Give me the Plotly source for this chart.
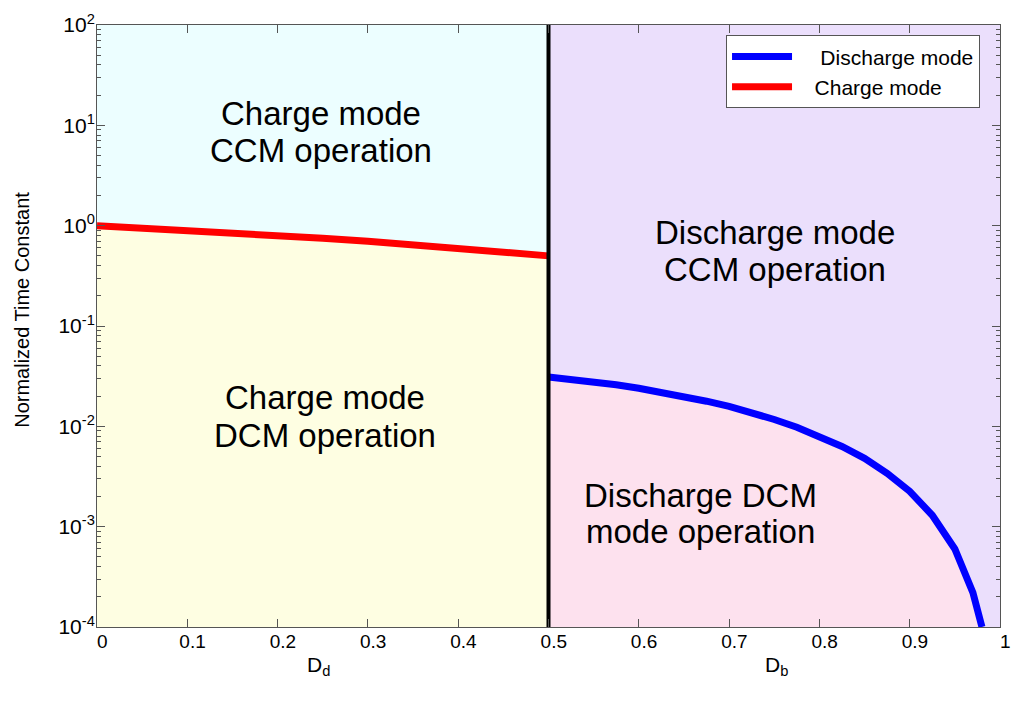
import plotly.graph_objects as go

# values
d_charge = [0.0, 0.05, 0.1, 0.15, 0.2, 0.25, 0.3, 0.35, 0.4, 0.45, 0.5]
tau_charge = [1.0, 0.95, 0.9, 0.85, 0.8, 0.75, 0.7, 0.65, 0.6, 0.55, 0.5]

d_discharge = [0.5, 0.525, 0.55, 0.575, 0.6, 0.625, 0.65, 0.675, 0.7, 0.725, 0.75,
               0.775, 0.8, 0.825, 0.85, 0.875, 0.9, 0.925, 0.95, 0.96, 0.97, 0.98]
tau_discharge = [0.031, 0.0296, 0.0278, 0.026, 0.024, 0.022, 0.0199, 0.0178, 0.0158, 0.0137, 0.0117,
                 0.0098, 0.008, 0.0063, 0.0048, 0.0034, 0.00225, 0.0013, 0.0006, 0.00038, 0.00022, 0.0001]

y_lo, y_hi = 1e-4, 1e2
x_mid = 0.5

xticks = [0, 0.1, 0.2, 0.3, 0.4, 0.5, 0.6, 0.7, 0.8, 0.9, 1]
xticktext = ["0", "0.1", "0.2", "0.3", "0.4", "0.5", "0.6", "0.7", "0.8", "0.9", "1"]
yticks = [1e-4, 1e-3, 1e-2, 1e-1, 1, 10, 100]
yticktext = ["10<sup>-4</sup>", "10<sup>-3</sup>", "10<sup>-2</sup>", "10<sup>-1</sup>",
             "10<sup>0</sup>", "10<sup>1</sup>", "10<sup>2</sup>"]

sans = "Liberation Sans, Arial"
pad = "\u00a0\u00a0"

fig = go.Figure()

# shaded regions
fig.add_trace(go.Scatter(x=d_charge + [x_mid, 0], y=tau_charge + [y_hi, y_hi], fill="toself",
                         fillcolor="#ecfeff", line=dict(width=0), mode="lines", showlegend=False, hoverinfo="skip"))
fig.add_trace(go.Scatter(x=d_charge + [x_mid, 0], y=tau_charge + [y_lo, y_lo], fill="toself",
                         fillcolor="#fefee2", line=dict(width=0), mode="lines", showlegend=False, hoverinfo="skip"))
fig.add_trace(go.Scatter(x=d_discharge + [1, 1, x_mid], y=tau_discharge + [y_lo, y_hi, y_hi], fill="toself",
                         fillcolor="#ebdffc", line=dict(width=0), mode="lines", showlegend=False, hoverinfo="skip"))
fig.add_trace(go.Scatter(x=d_discharge + [x_mid], y=tau_discharge + [y_lo], fill="toself",
                         fillcolor="#fde1ee", line=dict(width=0), mode="lines", showlegend=False, hoverinfo="skip"))

# curves
fig.add_trace(go.Scatter(x=d_discharge, y=tau_discharge, mode="lines", name="\u00a0\u00a0\u00a0\u00a0Discharge mode",
                         line=dict(color="#0000ff", width=7)))
fig.add_trace(go.Scatter(x=d_charge, y=tau_charge, mode="lines", name="\u00a0\u00a0\u00a0Charge mode",
                         line=dict(color="#ff0000", width=7)))
fig.add_trace(go.Scatter(x=[x_mid, x_mid], y=[y_lo, y_hi], mode="lines", showlegend=False,
                         line=dict(color="black", width=4)))

# region labels (y in log10 units for log axis)
labels = [
    (0.248, 1.12, "Charge mode"), (0.248, 0.75, "CCM operation"),
    (0.252, -1.71, "Charge mode"), (0.252, -2.09, "DCM operation"),
    (0.751, -0.07, "Discharge mode"), (0.751, -0.44, "CCM operation"),
    (0.668, -2.69, "Discharge DCM"), (0.668, -3.05, "mode operation"),
]
for x, y, t in labels:
    fig.add_annotation(x=x, y=y, text=t, showarrow=False,
                       font=dict(size=33, color="black", family=sans))

# x axis titles
fig.add_annotation(x=0.245, y=-0.04, xref="x", yref="paper", text="D<sub>d</sub>", showarrow=False,
                   yanchor="top", font=dict(size=21, color="black", family=sans))
fig.add_annotation(x=0.752, y=-0.04, xref="x", yref="paper", text="D<sub>b</sub>", showarrow=False,
                   yanchor="top", font=dict(size=21, color="black", family=sans))

# y axis title
fig.add_annotation(x=-0.083, y=0.527, xref="paper", yref="paper", text="Normalized Time Constant",
                   showarrow=False, textangle=-90, xanchor="center", yanchor="middle",
                   font=dict(size=20, color="black", family=sans))

fig.update_layout(
    width=1024, height=707,
    margin=dict(l=89, r=32, t=17, b=88, autoexpand=False),
    paper_bgcolor="white", plot_bgcolor="white",
    font=dict(family=sans, color="black"),
    legend=dict(x=0.6966, y=0.983, xanchor="left", yanchor="top", bgcolor="white",
                bordercolor="#555555", borderwidth=1, itemwidth=60, tracegroupgap=0,
                font=dict(size=21, color="black")),
    xaxis=dict(range=[0, 1], tickmode="array", tickvals=xticks, ticktext=[pad + t for t in xticktext],
               ticks="inside", ticklen=8, tickcolor="#555555", showline=True, linecolor="#555555",
               mirror="ticks", showgrid=False, zeroline=False, automargin=False, ticklabelstandoff=-3,
               tickfont=dict(size=19, family=sans)),
    yaxis=dict(type="log", range=[-4, 2], tickmode="array", tickvals=yticks, ticktext=yticktext,
               ticks="inside", ticklen=8, tickcolor="#555555", showline=True, linecolor="#555555",
               mirror="ticks", showgrid=False, zeroline=False, automargin=False, ticklabelstandoff=-3,
               minor=dict(ticks="inside", ticklen=4, tickcolor="#555555",
                          tickvals=[m * 10 ** e for e in range(-4, 2) for m in range(2, 10)]),
               tickfont=dict(size=21, family=sans)),
)

fig.write_html("out.html")
